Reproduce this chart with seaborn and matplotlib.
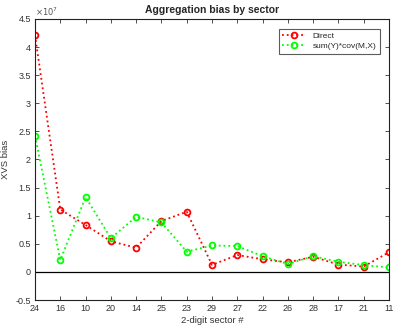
import numpy as np
import pandas as pd
import matplotlib
matplotlib.use("Agg")
import matplotlib.pyplot as plt
import seaborn as sns

sns.set_style("white")
plt.rcParams['font.family'] = ['Liberation Sans', 'DejaVu Sans']

sectors = ["24", "16", "10", "20", "14", "25", "23", "29", "27", "22", "26", "28", "17", "21", "11"]
direct = [4.21, 1.11, 0.835, 0.545, 0.43, 0.905, 1.07, 0.125, 0.30, 0.225, 0.17, 0.27, 0.13, 0.095, 0.35]
sum_cov = [2.42, 0.21, 1.33, 0.60, 0.98, 0.88, 0.36, 0.47, 0.46, 0.28, 0.14, 0.28, 0.18, 0.12, 0.08]
scale = 1e7

df = pd.DataFrame({
    "pos": list(range(len(sectors))) * 2,
    "bias": np.array(direct + sum_cov) * scale,
    "series": ["Direct"] * len(sectors) + ["sum(Y)*cov(M,X)"] * len(sectors),
})

fig = plt.figure(figsize=(3.94, 3.26), dpi=100)
ax = fig.add_axes([35 / 394, 1 - 300 / 326, (389 - 35) / 394, (300 - 19) / 326])

sns.lineplot(data=df, x="pos", y="bias", hue="series", sort=False,
             palette={"Direct": "#ff0000", "sum(Y)*cov(M,X)": "#00ff00"},
             linestyle=":", linewidth=1.3, marker="o", markersize=4.2,
             markerfacecolor="none", markeredgewidth=1.3, ax=ax)
for line in ax.get_lines():
    line.set_markeredgecolor(line.get_color())

ax.axhline(0, color="black", linewidth=0.9)

ax.set_xlim(0, len(sectors) - 1)
ax.set_ylim(-0.5e7, 4.5e7)
ax.set_xticks(range(len(sectors)))
ax.set_xticklabels(sectors)
ax.set_yticks(np.arange(-0.5, 4.51, 0.5) * scale)
ax.set_yticklabels([f"{v:g}" for v in np.arange(-0.5, 4.51, 0.5)])
ax.text(0.0, 1.005, r"$\times10^{7}$", transform=ax.transAxes, fontsize=6,
        color="#555555", ha="left", va="bottom")

ax.tick_params(axis="both", direction="in", length=3, width=0.6, labelsize=6.5,
               colors="#333333", top=True, right=True, bottom=True, left=True,
               labeltop=False, labelright=False, pad=3)
for s in ax.spines.values():
    s.set_color("#222222")
    s.set_linewidth(0.8)

ax.set_xlabel("2-digit sector #", fontsize=6.8, color="#333333", labelpad=2)
ax.set_ylabel("XVS bias", fontsize=6.8, color="#333333", labelpad=4)
ax.set_title("Aggregation bias by sector", fontsize=7.5, fontweight="bold", pad=4)

leg = ax.legend(loc="upper right", fontsize=6, frameon=True, fancybox=False,
                edgecolor="#333333", borderpad=0.4, handlelength=2.8,
                bbox_to_anchor=(0.985, 0.98), labelspacing=0.3)
leg.get_frame().set_linewidth(0.8)
leg.set_title(None)

fig.savefig("out.png", dpi=100)
